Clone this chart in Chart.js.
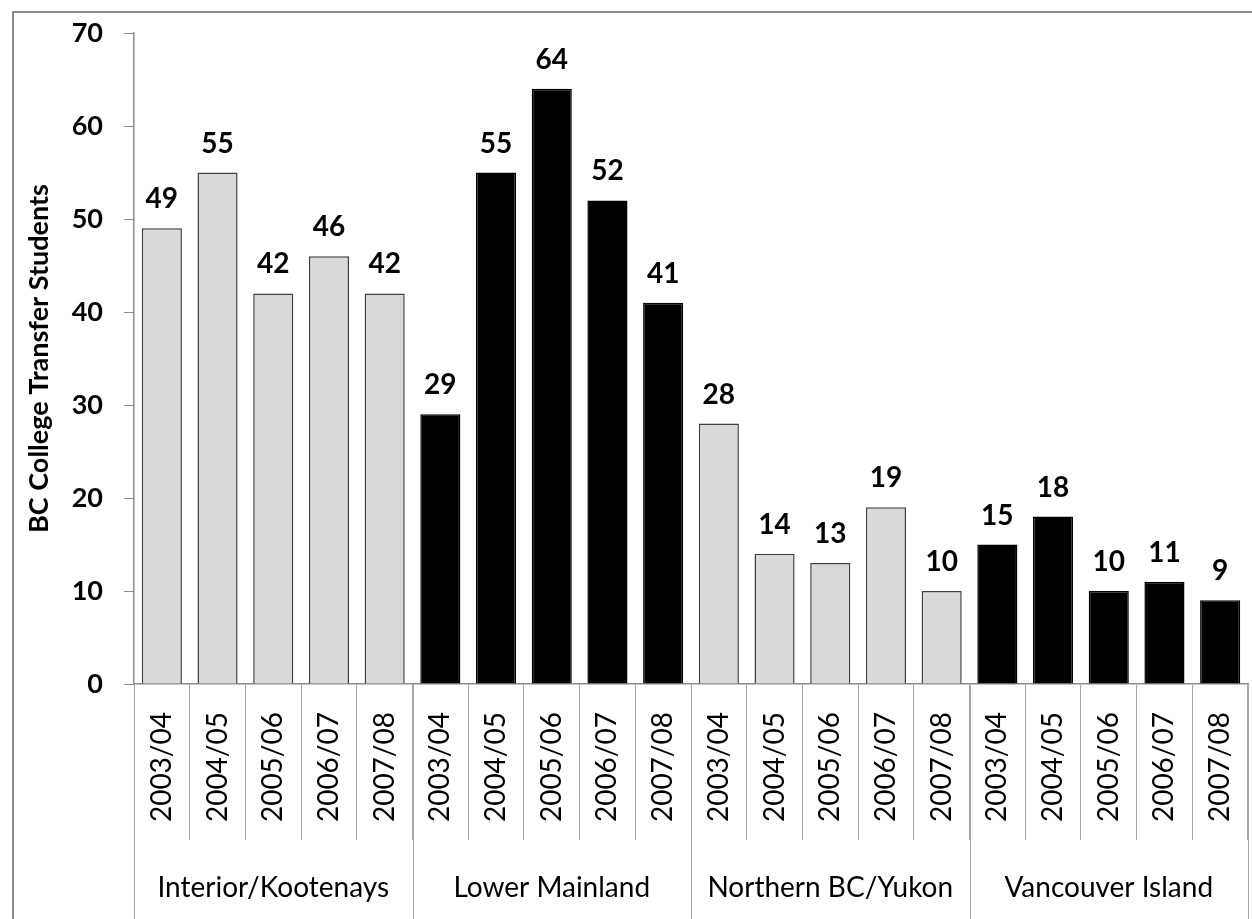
<!DOCTYPE html>
<html>
<head>
<meta charset="utf-8">
<script src="https://cdn.jsdelivr.net/npm/chart.js@4/dist/chart.umd.min.js"></script>
<style>
  html, body { margin: 0; padding: 0; background: #fff; }
  canvas { display: block; }
</style>
</head>
<body>
<canvas id="chart" width="1252" height="919"></canvas>
<script>
// chart data
const years = ["2003/04", "2004/05", "2005/06", "2006/07", "2007/08"];
const regions = ["Interior/Kootenays", "Lower Mainland", "Northern BC/Yukon", "Vancouver Island"];
const interiorKootenays = [49, 55, 42, 46, 42];
const lowerMainland = [29, 55, 64, 52, 41];
const northernBCYukon = [28, 14, 13, 19, 10];
const vancouverIsland = [15, 18, 10, 11, 9];
const yTicks = [0, 10, 20, 30, 40, 50, 60, 70];

const FONT = 'Lato, "Open Sans", sans-serif';
const regionFills = ["#d9d9d9", "#000000", "#d9d9d9", "#000000"];
const regionBorders = ["#404040", "#000000", "#404040", "#000000"];

// flatten the groups into 20 categories
var labels = [];
var values = [];
var fills = [];
var borders = [];
[interiorKootenays, lowerMainland, northernBCYukon, vancouverIsland].forEach(function (series, g) {
  series.forEach(function (v, i) {
    labels.push(years[i]);
    values.push(v);
    fills.push(regionFills[g]);
    borders.push(regionBorders[g]);
  });
});

// outer frame, region separators and labels, value labels
const decorations = {
  id: "decorations",
  beforeDraw: function (chart) {
    const ctx = chart.ctx;
    ctx.save();
    ctx.fillStyle = "#fff";
    ctx.fillRect(0, 0, chart.width, chart.height);
    ctx.strokeStyle = "#8c8c8c";
    ctx.lineWidth = 2;
    ctx.strokeRect(13, 12, chart.width + 20, chart.height + 20);
    ctx.restore();
  },
  afterDraw: function (chart) {
    const ctx = chart.ctx;
    const x = chart.scales.x;
    const step = (x.right - x.left) / labels.length;
    ctx.save();

    // region separators reaching the bottom
    ctx.strokeStyle = "#a6a6a6";
    ctx.lineWidth = 1;
    for (var g = 0; g <= regions.length; g++) {
      var px = Math.round(x.left + g * years.length * step) + 0.5;
      ctx.beginPath();
      ctx.moveTo(px, x.top);
      ctx.lineTo(px, chart.height);
      ctx.stroke();
    }

    // region names
    ctx.fillStyle = "#000";
    ctx.font = "28px " + FONT;
    ctx.textAlign = "center";
    ctx.textBaseline = "middle";
    regions.forEach(function (name, g) {
      var cx = x.left + (g * years.length + years.length / 2) * step;
      ctx.fillText(name, cx, 888);
    });

    // value labels above the bars
    ctx.font = "bold 28px " + FONT;
    ctx.textBaseline = "alphabetic";
    chart.getDatasetMeta(0).data.forEach(function (bar, i) {
      ctx.fillText(String(values[i]), bar.x, bar.y - 20);
    });
    ctx.restore();
  },
};

new Chart(document.getElementById("chart"), {
  type: "bar",
  data: {
    labels: labels,
    datasets: [
      {
        data: values,
        backgroundColor: fills,
        borderColor: borders,
        borderWidth: 1.5,
        barPercentage: 0.72,
        categoryPercentage: 1.0,
      },
    ],
  },
  options: {
    responsive: false,
    animation: false,
    devicePixelRatio: 1,
    layout: { padding: { left: 0, top: 33, right: 4, bottom: 0 } },
    plugins: {
      legend: { display: false },
      tooltip: { enabled: false },
    },
    scales: {
      x: {
        offset: true,
        grid: {
          offset: true,
          drawOnChartArea: false,
          drawTicks: true,
          tickLength: 156,
          color: "#a6a6a6",
        },
        border: { display: true, color: "#8c8c8c", width: 1.5 },
        ticks: {
          autoSkip: false,
          minRotation: 90,
          maxRotation: 90,
          padding: -128,
          color: "#000",
          font: { family: FONT, size: 28 },
        },
        afterFit: function (scale) {
          scale.height = 235;
          scale.paddingLeft = 0;
          scale.paddingRight = 0;
        },
      },
      y: {
        min: 0,
        max: 70,
        afterBuildTicks: function (scale) {
          scale.ticks = yTicks.map(function (v) { return { value: v }; });
        },
        grid: {
          drawOnChartArea: false,
          drawTicks: true,
          tickLength: 10,
          color: "#8c8c8c",
        },
        border: { display: true, color: "#8c8c8c", width: 1.5 },
        ticks: {
          padding: 21,
          color: "#000",
          font: { family: FONT, size: 27, weight: "bold" },
        },
        title: {
          display: true,
          text: "BC College Transfer Students",
          color: "#000",
          padding: { top: 23, bottom: 0 },
          font: { family: FONT, size: 27, weight: "bold" },
        },
        afterFit: function (scale) {
          scale.width = 134;
          scale.paddingTop = 0;
          scale.paddingBottom = 0;
        },
      },
    },
  },
  plugins: [decorations],
});
</script>
</body>
</html>
